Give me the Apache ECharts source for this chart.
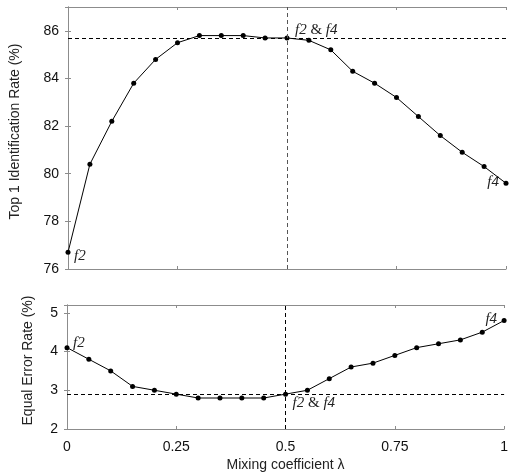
<!DOCTYPE html>
<html>
<head>
<meta charset="utf-8">
<script src="https://cdn.jsdelivr.net/npm/echarts@6/dist/echarts.min.js"></script>
<style>
  html, body { margin: 0; padding: 0; background: #fff; }
  #chart { width: 511px; height: 476px; }
</style>
</head>
<body>
<div id="chart"></div>
<script>
// mixing coefficient lambda
var lambda = [0, 0.05, 0.1, 0.15, 0.2, 0.25, 0.3, 0.35, 0.4, 0.45, 0.5,
              0.55, 0.6, 0.65, 0.7, 0.75, 0.8, 0.85, 0.9, 0.95, 1];
// top 1 identification rate (%)
var top1Rate = [76.7, 80.4, 82.2, 83.8, 84.8, 85.5, 85.8, 85.8, 85.8, 85.7, 85.7,
                85.6, 85.2, 84.3, 83.8, 83.2, 82.4, 81.6, 80.9, 80.3, 79.6];
// equal error rate (%)
var eerRate = [4.1, 3.8, 3.5, 3.1, 3.0, 2.9, 2.8, 2.8, 2.8, 2.8, 2.9,
               3.0, 3.3, 3.6, 3.7, 3.9, 4.1, 4.2, 4.3, 4.5, 4.8];
var xTicks = [0, 0.25, 0.5, 0.75, 1];
var top1Ref = 85.7;   // dashed line, top plot
var eerRef = 2.9;     // dashed line, bottom plot
var mixRef = 0.5;     // vertical dashed line

var chart = echarts.init(document.getElementById('chart'));

function pairs(ys) {
    var out = [];
    for (var i = 0; i < lambda.length; i++) out.push([lambda[i], ys[i]]);
    return out;
}

var boxColor = '#8c8c8c';
var labelFont = 'Liberation Sans, Arial, sans-serif';
var tagStyle = {
    fontFamily: 'Liberation Serif, Times New Roman, serif',
    fontSize: 15,
    color: '#222',
    rich: {
        i: { fontStyle: 'italic', fontFamily: 'Liberation Serif, serif', fontSize: 15, color: '#222' }
    }
};

function tag(x, y, text, align, dx, dy) {
    return {
        coord: [x, y],
        symbol: 'circle',
        symbolSize: 0,
        label: Object.assign({
            show: true,
            position: 'inside',
            align: align,
            verticalAlign: 'middle',
            offset: [dx, dy],
            formatter: text
        }, tagStyle)
    };
}

function xAxisOf(grid, showLabels, pos, name) {
    return {
        type: 'value', gridIndex: grid, min: 0, max: 1, interval: 0.25,
        position: pos,
        name: name || '', nameLocation: 'middle', nameGap: 29,
        nameTextStyle: { fontSize: 14, fontFamily: labelFont, color: '#222' },
        axisLine: { show: true, lineStyle: { color: boxColor, width: 1 } },
        axisTick: { show: true, inside: true, length: 3, lineStyle: { color: boxColor } },
        axisLabel: {
            show: showLabels, color: '#111', fontSize: 14, fontFamily: labelFont, margin: 11,
            formatter: function (v) { return xTicks.indexOf(v) >= 0 ? String(v) : ''; }
        },
        splitLine: { show: false }
    };
}

function yAxisOf(grid, min, max, interval, name, pos, gap) {
    return {
        type: 'value', gridIndex: grid, min: min, max: max, interval: interval,
        position: pos,
        name: name, nameLocation: 'middle', nameGap: gap,
        nameTextStyle: { fontSize: 14, fontFamily: labelFont, color: '#222', padding: [0, 0, 0, 13] },
        axisLine: { show: true, lineStyle: { color: boxColor, width: 1 } },
        axisTick: { show: true, inside: true, length: 3, lineStyle: { color: boxColor } },
        axisLabel: {
            show: pos === 'left', color: '#111', fontSize: 14, fontFamily: labelFont, margin: 9,
            showMaxLabel: max % interval === 0
        },
        splitLine: { show: false }
    };
}

var option = {
    animation: false,
    backgroundColor: '#fff',
    grid: [
        { left: 67, right: 5, top: 7, height: 262 },
        { left: 67, right: 5, top: 305, bottom: 47 }
    ],
    xAxis: [
        xAxisOf(0, false, 'bottom'),
        xAxisOf(1, true, 'bottom', 'Mixing coefficient λ'),
        xAxisOf(0, false, 'top'),
        xAxisOf(1, false, 'top')
    ],
    yAxis: [
        yAxisOf(0, 76, 87, 2, 'Top 1 Identification Rate (%)', 'left', 46),
        yAxisOf(1, 2, 5.2, 1, 'Equal Error Rate (%)', 'left', 32),
        yAxisOf(0, 76, 87, 2, '', 'right', 0),
        yAxisOf(1, 2, 5.2, 1, '', 'right', 0)
    ],
    series: [
        {
            type: 'line', xAxisIndex: 0, yAxisIndex: 0,
            data: pairs(top1Rate),
            symbol: 'circle', symbolSize: 5,
            itemStyle: { color: '#000' },
            lineStyle: { color: '#000', width: 1 },
            markLine: {
                silent: true, symbol: 'none', label: { show: false },
                data: [
                    { yAxis: top1Ref, lineStyle: { color: '#000', type: [4, 3], width: 1 } },
                    { xAxis: mixRef, lineStyle: { color: '#555', type: [4, 3], width: 1 } }
                ]
            },
            markPoint: {
                silent: true,
                data: [
                    tag(lambda[0], top1Rate[0], '{i|f2}', 'left', 6, 4),
                    tag(mixRef, top1Ref, '{i|f2} & {i|f4}', 'left', 8, -8),
                    tag(lambda[lambda.length - 1], top1Rate[top1Rate.length - 1], '{i|f4}', 'right', -7, -1)
                ]
            }
        },
        {
            type: 'line', xAxisIndex: 1, yAxisIndex: 1,
            data: pairs(eerRate),
            symbol: 'circle', symbolSize: 5,
            itemStyle: { color: '#000' },
            lineStyle: { color: '#000', width: 1 },
            markLine: {
                silent: true, symbol: 'none', label: { show: false },
                data: [
                    { yAxis: eerRef, lineStyle: { color: '#000', type: [4, 3], width: 1 } },
                    { xAxis: mixRef, lineStyle: { color: '#000', type: [4, 3], width: 1 } }
                ]
            },
            markPoint: {
                silent: true,
                data: [
                    tag(lambda[0], eerRate[0], '{i|f2}', 'left', 6, -5),
                    tag(mixRef, eerRef, '{i|f2} & {i|f4}', 'left', 7, 9),
                    tag(lambda[lambda.length - 1], eerRate[eerRate.length - 1], '{i|f4}', 'right', -7, -1)
                ]
            }
        }
    ]
};

chart.setOption(option);
</script>
</body>
</html>
